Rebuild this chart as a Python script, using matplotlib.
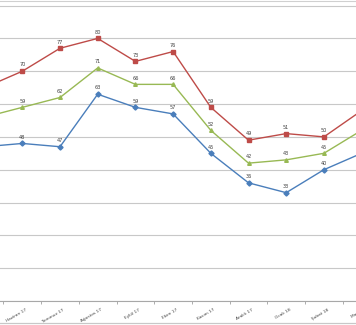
import matplotlib
matplotlib.use("Agg")
import matplotlib.pyplot as plt
import matplotlib.transforms as mtransforms
from matplotlib.lines import Line2D
import numpy as np

# ── data ───────────────────────────────────────────────────────────────────────
months = ["Mayıs 17", "Haziran 17", "Temmuz 17", "Ağustos 17", "Eylül 17",
          "Ekim 17", "Kasım 17", "Aralık 17", "Ocak 18", "Şubat 18", "Mart 18"]
red_vals   = [65, 70, 77, 80, 73, 76, 59, 49, 51, 50, 58]
green_vals = [56, 59, 62, 71, 66, 66, 52, 42, 43, 45, 52]
blue_vals  = [47, 48, 47, 63, 59, 57, 45, 36, 33, 40, 45]
y_ticks = [0, 10, 20, 30, 40, 50, 60, 70, 80, 90]

series = [
    (red_vals,   "#BE4B48", "s"),
    (green_vals, "#98B954", "^"),
    (blue_vals,  "#4A7EBB", "D"),
]

fig = plt.figure(figsize=(3.56, 3.25), dpi=100)
ax = fig.add_axes([0, 24 / 325, 1, 300 / 325])

# visible window: the chart is cropped on both sides
x_lo = 1 - 22.3 / 37.7
x_hi = 1 + (356 - 22.3) / 37.7

x = np.arange(len(months))
for vals, color, marker in series:
    ax.plot(x, vals, color=color, lw=1.0, marker=marker, ms=2.6,
            mec=color, mfc=color, zorder=3)
    for xi, v in zip(x, vals):
        if x_lo < xi < x_hi:
            ax.annotate(str(v), (xi, v), xytext=(0, 4.5), textcoords="offset points",
                        ha="center", va="center", fontsize=3.6, color="#404040")

ax.set_yticks(y_ticks)
ax.yaxis.grid(True, color="#C8C8C8", lw=0.8)
ax.set_axisbelow(True)
ax.tick_params(axis="y", left=False, labelleft=False)
ax.tick_params(axis="x", which="major", bottom=False, labelbottom=False)

# category labels (the last one is cut by the crop, as in the original)
trans = mtransforms.blended_transform_factory(ax.transData, ax.transAxes)
off = mtransforms.offset_copy(trans, fig=fig, x=3, y=-6, units="points")
for xi, m in zip(x, months):
    if x_lo < xi < x_hi + 0.6:
        ax.text(xi, 0, m, transform=off, rotation=30, ha="right", va="center",
                rotation_mode="anchor", fontsize=3.1, color="#404040", clip_on=False)

# tick marks between categories
ax.set_xticks(x[:-1] + 0.5, minor=True)
ax.tick_params(axis="x", which="minor", length=2.5, color="#A0A0A0", width=0.6)

ax.set_xlim(x_lo, x_hi)
ax.set_ylim(0, 91.4)

for side in ["left", "right"]:
    ax.spines[side].set_visible(False)
ax.spines["top"].set_color("#D0D0D0")
ax.spines["top"].set_linewidth(0.8)
ax.spines["bottom"].set_color("#A8A8A8")
ax.spines["bottom"].set_linewidth(0.8)

# chart-area border at the bottom
fig.add_artist(Line2D([0, 1], [2 / 325, 2 / 325], transform=fig.transFigure,
                      color="#C8C8C8", lw=0.9))

fig.savefig("out.png", dpi=100)
